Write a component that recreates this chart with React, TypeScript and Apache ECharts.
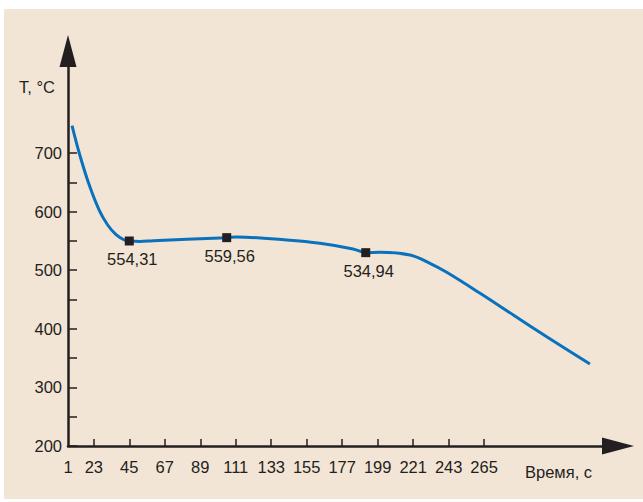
import React, { useEffect, useRef } from "react";
import * as echarts from "echarts";

// Curve (time, s / temperature, °C)
const curveTime = [9.5, 14.0, 19.8, 26.4, 31.6, 36.8, 41.9, 45, 51.6, 59.9, 80.6, 105.4, 111.6, 142.6, 163.2, 183.7, 191.6, 200.4, 219.0, 231.4, 241.8, 262.5, 283.1, 303.8, 330.6];
const curveTemp = [746.6, 699.5, 648.3, 602.0, 577.1, 560.5, 551.5, 549.8, 549.0, 550.3, 552.7, 555.5, 556.7, 551.5, 545.9, 536.2, 529.9, 530.5, 525.9, 511.8, 496.4, 460.6, 423.5, 386.5, 339.9];

// Marked points
const markTime = [45, 105.4, 191.6];
const markTemp = [549.8, 555.5, 529.9];
const markLabels = ["554,31", "559,56", "534,94"];

// Axis ticks
const xMin = 7;
const xMax = 348;
const xOriginLabel = "1";
const xTickValues = [23, 45, 67, 89, 111, 133, 155, 177, 199, 221, 243, 265];
const yMin = 200;
const yMax = 874;
const yLabelValues = [200, 300, 400, 500, 600, 700];
const yTickValues = [200, 250, 300, 350, 400, 450, 500, 550, 600, 650, 700];

const INK = "#231f20";
const FONT = "'Liberation Sans', Arial, sans-serif";
const FS = 16.5;

export default function App() {
  const ref = useRef<HTMLDivElement>(null);
  useEffect(() => {
    if (!ref.current) return;
    const chart = echarts.init(ref.current, undefined, { renderer: "svg" });
    const curve = curveTime.map((t, i) => [t, curveTemp[i]]);
    const marks = markTime.map((t, i) => [t, markTemp[i]]);
    chart.setOption({
      animation: false,
      backgroundColor: "#ffffff",
      textStyle: { fontFamily: FONT },
      graphic: [
        {
          type: "rect",
          left: 4,
          top: 9,
          z: -10,
          silent: true,
          shape: { width: 639, height: 490 },
          style: { fill: "#f3e5d6" },
        },
      ],
      grid: { left: 68, right: 25, top: 51, bottom: 56, containLabel: false },
      xAxis: {
        type: "value",
        min: xMin,
        max: xMax,
        name: "Время, с",
        nameLocation: "end",
        nameGap: -93,
        nameTextStyle: { color: INK, fontSize: FS, fontFamily: FONT, align: "left", verticalAlign: "top", padding: [17, 0, 0, 0] },
        splitLine: { show: false },
        axisLine: {
          show: true,
          onZero: false,
          symbol: ["none", "triangle"],
          symbolSize: [17, 32],
          lineStyle: { color: INK, width: 2.5 },
        },
        axisTick: { show: true, inside: true, length: 7, customValues: xTickValues, lineStyle: { color: INK, width: 1.5 } },
        axisLabel: {
          show: true,
          margin: 12,
          color: INK,
          fontSize: FS,
          fontFamily: FONT,
          customValues: [xMin, ...xTickValues],
          formatter: (v: number) => (v === xMin ? xOriginLabel : String(v)),
        },
      },
      yAxis: {
        type: "value",
        min: yMin,
        max: yMax,
        name: "T, °C",
        nameLocation: "end",
        nameGap: -36,
        nameTextStyle: { color: INK, fontSize: FS, fontFamily: FONT, align: "right", verticalAlign: "middle", padding: [0, 13, 0, 0] },
        splitLine: { show: false },
        axisLine: {
          show: true,
          onZero: false,
          symbol: ["none", "triangle"],
          symbolSize: [17, 32],
          lineStyle: { color: INK, width: 2.5 },
        },
        axisTick: { show: true, inside: true, length: 9, customValues: yTickValues, lineStyle: { color: INK, width: 1.5 } },
        axisLabel: { show: true, margin: 6, color: INK, fontSize: FS, fontFamily: FONT, customValues: yLabelValues },
      },
      series: [
        {
          type: "line",
          data: curve,
          smooth: 0.35,
          showSymbol: false,
          symbol: "none",
          lineStyle: { color: "#0a72bd", width: 3 },
          z: 2,
        },
        {
          type: "scatter",
          data: marks,
          symbol: "rect",
          symbolSize: 9,
          itemStyle: { color: INK, opacity: 1 },
          z: 3,
          label: {
            show: true,
            position: "bottom",
            distance: 5,
            offset: [3, 0],
            color: INK,
            fontSize: FS,
            fontFamily: FONT,
            formatter: (p: any) => markLabels[p.dataIndex],
          },
        },
      ],
    });
    return () => chart.dispose();
  }, []);
  return <div ref={ref} style={{ position: "fixed", left: 0, top: 0, width: 643, height: 502 }} />;
}
